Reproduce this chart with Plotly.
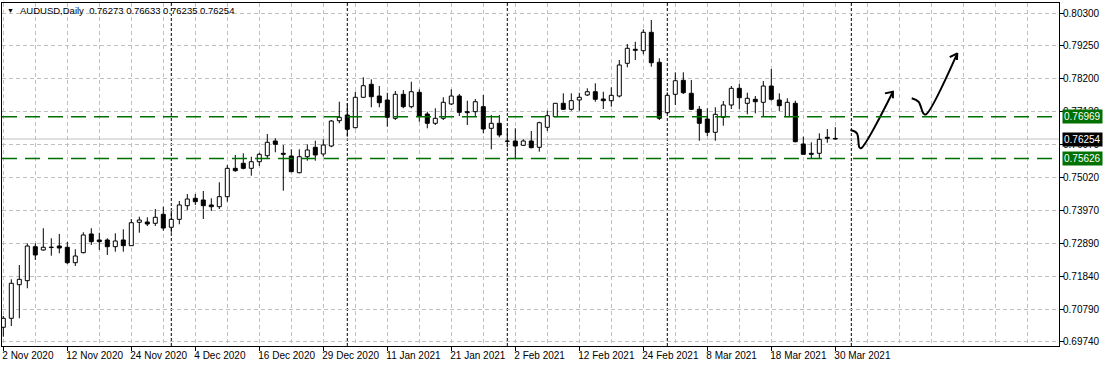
import plotly.graph_objects as go
import pandas as pd

# ---------------- data ----------------
holidays = ["2020-12-25", "2021-01-01"]
dates = [d.strftime("%Y-%m-%d") for d in pd.bdate_range("2020-11-02", "2021-03-30")
         if d.strftime("%Y-%m-%d") not in holidays]
future_dates = ["2021-03-31", "2021-04-01"]

opens = [0.70211, 0.70500, 0.71578, 0.71707, 0.72798, 0.72692, 0.72770, 0.72820, 0.72779, 0.72284,
         0.72606, 0.73206, 0.73013, 0.73013, 0.72798, 0.73013, 0.72830, 0.73581, 0.73591, 0.73549,
         0.73838, 0.73421, 0.73677, 0.74114, 0.74351, 0.74297, 0.74137, 0.74082, 0.74403, 0.75314,
         0.75475, 0.75314, 0.75526, 0.75719, 0.76191, 0.75796, 0.75709, 0.75173, 0.75687, 0.75989,
         0.75774, 0.76030, 0.76842, 0.77025, 0.76618, 0.77594, 0.78011, 0.77635, 0.77507, 0.76919,
         0.77690, 0.77292, 0.77754, 0.77058, 0.76759, 0.76919, 0.77379, 0.77635, 0.77132, 0.77132,
         0.77292, 0.76598, 0.76759, 0.76191, 0.76191, 0.76053, 0.76191, 0.75989, 0.76631, 0.76971,
         0.77401, 0.77209, 0.77507, 0.77668, 0.77773, 0.77539, 0.77485, 0.77635, 0.78685, 0.79135,
         0.79090, 0.79680, 0.78717, 0.77100, 0.77690, 0.78139, 0.77722, 0.77209, 0.76897, 0.76470,
         0.76952, 0.77347, 0.77882, 0.77401, 0.77530, 0.77433, 0.77956, 0.77507, 0.76971, 0.77401,
         0.76095, 0.75796, 0.75796, 0.76310, 0.76273]
highs = [0.70574, 0.71751, 0.72210, 0.72907, 0.72907, 0.73389, 0.73068, 0.73206, 0.72949, 0.72714,
         0.73260, 0.73389, 0.73247, 0.73068, 0.73228, 0.73357, 0.73687, 0.73761, 0.73742, 0.74008,
         0.74082, 0.73950, 0.74265, 0.74490, 0.74490, 0.74586, 0.74351, 0.74865, 0.75420, 0.75742,
         0.75796, 0.75687, 0.75815, 0.76416, 0.76277, 0.76062, 0.75925, 0.75925, 0.76085, 0.76200,
         0.76245, 0.76865, 0.77452, 0.77401, 0.77773, 0.78236, 0.78171, 0.77956, 0.77741, 0.77796,
         0.77828, 0.78094, 0.77850, 0.77132, 0.77241, 0.77594, 0.77850, 0.77699, 0.77485, 0.77539,
         0.77668, 0.77025, 0.77025, 0.76598, 0.76598, 0.76245, 0.76512, 0.76810, 0.77164, 0.77410,
         0.77722, 0.77722, 0.77741, 0.77882, 0.78043, 0.77773, 0.77915, 0.78791, 0.79305, 0.79378,
         0.79776, 0.80075, 0.78846, 0.77750, 0.78396, 0.78396, 0.78149, 0.77314, 0.77241, 0.77273,
         0.77475, 0.77956, 0.78021, 0.77741, 0.77635, 0.78117, 0.78502, 0.77722, 0.77562, 0.77485,
         0.76329, 0.76149, 0.76438, 0.76576, 0.76633]
lows = [0.69909, 0.70252, 0.70500, 0.71463, 0.72371, 0.72670, 0.72509, 0.72586, 0.72243, 0.72178,
        0.72586, 0.72853, 0.72692, 0.72532, 0.72638, 0.72638, 0.72820, 0.73247, 0.73462, 0.73462,
        0.73311, 0.73247, 0.73517, 0.73976, 0.74137, 0.73687, 0.73944, 0.74008, 0.74243, 0.75205,
        0.75282, 0.75077, 0.75388, 0.75636, 0.75828, 0.74596, 0.75190, 0.75154, 0.75559, 0.75559,
        0.75687, 0.75989, 0.76759, 0.76329, 0.76598, 0.77570, 0.77273, 0.77273, 0.76650, 0.76865,
        0.77241, 0.77241, 0.76810, 0.76598, 0.76705, 0.76865, 0.77347, 0.76993, 0.76705, 0.76971,
        0.76438, 0.75925, 0.76310, 0.75989, 0.75636, 0.76030, 0.75956, 0.75848, 0.76512, 0.76960,
        0.77186, 0.77164, 0.77164, 0.77635, 0.77452, 0.77218, 0.77292, 0.77590, 0.78557, 0.78791,
        0.78974, 0.78576, 0.76865, 0.77058, 0.77347, 0.77699, 0.77186, 0.76200, 0.76351, 0.76200,
        0.76682, 0.77218, 0.77218, 0.77048, 0.77080, 0.76993, 0.77485, 0.77154, 0.76960, 0.76149,
        0.75742, 0.75636, 0.75636, 0.76136, 0.76235]
closes = [0.70500, 0.71623, 0.71751, 0.72820, 0.72532, 0.72779, 0.72785, 0.72756, 0.72284, 0.72499,
          0.73174, 0.72959, 0.72959, 0.72798, 0.72981, 0.72830, 0.73568, 0.73655, 0.73527, 0.73742,
          0.73398, 0.73677, 0.74137, 0.74329, 0.74243, 0.74114, 0.74082, 0.74403, 0.75314, 0.75237,
          0.75314, 0.75526, 0.75764, 0.76149, 0.76085, 0.75764, 0.75205, 0.75687, 0.75902, 0.75742,
          0.76062, 0.76833, 0.76952, 0.76567, 0.77594, 0.77966, 0.77613, 0.77420, 0.76952, 0.77690,
          0.77292, 0.77773, 0.76993, 0.76759, 0.76919, 0.77433, 0.77635, 0.77112, 0.77100, 0.77452,
          0.76576, 0.76759, 0.76384, 0.76180, 0.76030, 0.76191, 0.75976, 0.76778, 0.77003, 0.77401,
          0.77209, 0.77485, 0.77594, 0.77773, 0.77530, 0.77485, 0.77658, 0.78631, 0.79167, 0.79102,
          0.79680, 0.78704, 0.76919, 0.77658, 0.78126, 0.77741, 0.77209, 0.76759, 0.76470, 0.77048,
          0.77347, 0.77882, 0.77581, 0.77562, 0.77452, 0.77956, 0.77530, 0.77324, 0.77433, 0.76168,
          0.75764, 0.75764, 0.76245, 0.76277, 0.76254]

title_text = "AUDUSD,Daily\u00a0\u00a00.76273 0.76633 0.76235 0.76254"
level_lines = [0.76969, 0.75626]
bid_price = 0.76254
y_ticks = [0.80300, 0.79250, 0.78200, 0.77130, 0.76070, 0.75020,
           0.73970, 0.72890, 0.71840, 0.70790, 0.69740]

# hand-drawn arrows (bar index, price)
arrow1_x = [105.9, 106.7, 107.0, 107.2, 111.2]
arrow1_y = [0.76544, 0.76438, 0.75989, 0.75957, 0.77773]
arrow1_head_x = [110.2, 111.2, 111.2]
arrow1_head_y = [0.77720, 0.77773, 0.77560]
arrow2_x = [113.55, 114.4, 115.0, 115.3, 119.25]
arrow2_y = [0.77562, 0.77452, 0.77080, 0.77042, 0.79006]
arrow2_head_x = [118.3, 119.25, 119.2]
arrow2_head_y = [0.78880, 0.79006, 0.78790]

# ---------------- figure ----------------
FONT = "Liberation Sans"
all_dates = dates + future_dates
pos = {d: i for i, d in enumerate(all_dates)}
xs = [pos[d] for d in dates]

fig = go.Figure()

# wicks
wx, wy = [], []
for x, o, h, l, c in zip(xs, opens, highs, lows, closes):
    top, bot = max(o, c), min(o, c)
    wx += [x, x, None, x, x, None]
    wy += [h, top, None, bot, l, None]
fig.add_trace(go.Scatter(x=wx, y=wy, mode="lines", line=dict(color="black", width=1),
                         hoverinfo="skip", showlegend=False))

# bodies
fig.add_trace(go.Bar(
    x=xs,
    y=[max(abs(c - o), 0.00004) for o, c in zip(opens, closes)],
    base=[min(o, c) for o, c in zip(opens, closes)],
    width=0.5,
    marker=dict(color=["white" if c >= o else "black" for o, c in zip(opens, closes)],
                line=dict(color="black", width=1)),
    hoverinfo="skip", showlegend=False))

# arrows
for ax_, ay_ in [(arrow1_x, arrow1_y), (arrow2_x, arrow2_y)]:
    fig.add_trace(go.Scatter(x=ax_, y=ay_, mode="lines", line=dict(color="black", width=2, shape="spline"),
                             hoverinfo="skip", showlegend=False))
for ax_, ay_ in [(arrow1_head_x, arrow1_head_y), (arrow2_head_x, arrow2_head_y)]:
    fig.add_trace(go.Scatter(x=ax_, y=ay_, mode="lines", line=dict(color="black", width=2),
                             hoverinfo="skip", showlegend=False))

shapes = []
# month separators
for i in range(1, len(all_dates)):
    if all_dates[i][:7] != all_dates[i - 1][:7]:
        shapes.append(dict(type="line", xref="x", yref="paper", x0=i, x1=i, y0=0, y1=1,
                           line=dict(color="black", width=1, dash="3px,2px"), layer="below"))
# bid line
shapes.append(dict(type="line", xref="paper", yref="y", x0=0, x1=1, y0=bid_price, y1=bid_price,
                   line=dict(color="#c0c0c0", width=1), layer="below"))
# horizontal levels
for lv in level_lines:
    shapes.append(dict(type="line", xref="paper", yref="y", x0=0, x1=1, y0=lv, y1=lv,
                       line=dict(color="#007000", width=1.5, dash="15px,8px"), layer="above"))

annotations = [
    dict(text="\u25bc", xref="paper", yref="paper", x=0.003, y=0.977, xanchor="left", yanchor="middle",
         showarrow=False, font=dict(family=FONT, size=7, color="black")),
    dict(text=title_text, xref="paper", yref="paper", x=0.0155, y=0.977, xanchor="left", yanchor="middle",
         showarrow=False, font=dict(family=FONT, size=9.5, color="black")),
]
for val, bg in [(level_lines[0], "#007000"), (bid_price, "black"), (level_lines[1], "#007000")]:
    annotations.append(dict(text=f"{val:.5f}", xref="paper", yref="y", x=1, y=val, xanchor="left",
                            yanchor="middle", xshift=3, showarrow=False, bgcolor=bg, borderpad=1,
                            font=dict(family=FONT, size=10, color="white")))

tick_idx = list(range(0, len(dates), 8))
tick_text = [pd.Timestamp(dates[i]).strftime("%d %b %Y").lstrip("0") for i in tick_idx]

fig.update_layout(
    width=1107, height=366,
    margin=dict(l=2, r=48, t=3, b=20),
    paper_bgcolor="white", plot_bgcolor="white",
    font=dict(family=FONT, size=10, color="black"),
    shapes=shapes, annotations=annotations,
    bargap=0, hovermode=False,
    xaxis=dict(range=[-0.1625, 131.96], tickmode="array", tickvals=tick_idx, ticktext=tick_text,
               tickangle=0, automargin=False, ticklabelshift=-2,
               ticklabelposition="outside right", ticks="outside", ticklen=4, tickcolor="black",
               showgrid=True, gridcolor="#c0c0c0", griddash="4px,3px", gridwidth=1,
               minor=dict(tickmode="linear", tick0=0, dtick=4, showgrid=True, gridcolor="#c0c0c0",
                          griddash="4px,3px", gridwidth=1),
               showline=True, linecolor="black", linewidth=1, mirror=True, zeroline=False,
               fixedrange=True),
    yaxis=dict(range=[0.69610, 0.80621], side="right", tickmode="array", tickvals=y_ticks,
               automargin=False, ticklabelstandoff=-3,
               ticktext=[f"{v:.5f}" for v in y_ticks], ticks="outside", ticklen=4, tickcolor="black",
               showgrid=True, gridcolor="#c0c0c0", griddash="4px,3px", gridwidth=1,
               showline=True, linecolor="black", linewidth=1, mirror=True, zeroline=False,
               fixedrange=True),
)

fig.write_html("out.html", config={"displayModeBar": False, "staticPlot": True})
